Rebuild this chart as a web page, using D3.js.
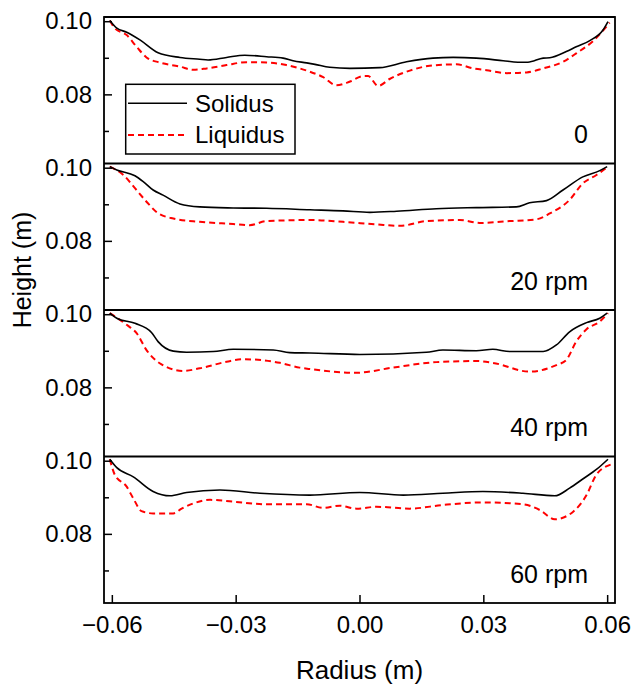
<!DOCTYPE html>
<html><head><meta charset="utf-8">
<script src="https://cdn.jsdelivr.net/npm/d3@7"></script>
<style>body{margin:0;background:#fff} text{font-family:"Liberation Sans",Arial,Helvetica,sans-serif;fill:#000}</style>
</head><body><svg id="c" width="633" height="687"></svg>
<script>
const panelLabels = ["0", "20 rpm", "40 rpm", "60 rpm"];
const seriesNames = ["Solidus", "Liquidus"];
const xTicks = [-0.06, -0.03, 0, 0.03, 0.06];
const yMajorTicks = [0.08, 0.10];
const yMinorTicks = [0.07, 0.09];

const solidus0 = [[-0.0605,0.1002],[-0.0588,0.0981],[-0.0564,0.0970],[-0.0532,0.0949],[-0.0488,0.0914],[-0.0435,0.0901],[-0.0387,0.0896],[-0.0367,0.0894],[-0.0322,0.0901],[-0.0278,0.0907],[-0.0225,0.0903],[-0.0185,0.0899],[-0.0161,0.0892],[-0.0128,0.0886],[-0.0108,0.0882],[-0.0072,0.0874],[-0.0023,0.0871],[0.0049,0.0873],[0.0114,0.0889],[0.0178,0.0899],[0.0227,0.0901],[0.0283,0.0899],[0.0348,0.0892],[0.0384,0.0888],[0.0408,0.0888],[0.0445,0.0899],[0.0461,0.0900],[0.0501,0.0917],[0.0525,0.0930],[0.0558,0.0947],[0.0590,0.0976],[0.0602,0.0999]];
const liquidus0 = [[-0.0605,0.1002],[-0.0593,0.0981],[-0.0564,0.0962],[-0.0540,0.0930],[-0.0516,0.0901],[-0.0484,0.0887],[-0.0435,0.0876],[-0.0403,0.0867],[-0.0370,0.0871],[-0.0322,0.0880],[-0.0274,0.0888],[-0.0225,0.0887],[-0.0177,0.0880],[-0.0145,0.0871],[-0.0120,0.0862],[-0.0088,0.0847],[-0.0056,0.0825],[-0.0023,0.0835],[0.0009,0.0850],[0.0021,0.0850],[0.0045,0.0823],[0.0073,0.0842],[0.0122,0.0865],[0.0170,0.0878],[0.0235,0.0882],[0.0275,0.0871],[0.0308,0.0866],[0.0357,0.0858],[0.0405,0.0860],[0.0445,0.0871],[0.0493,0.0889],[0.0525,0.0912],[0.0566,0.0946],[0.0606,0.0996]];
const solidus20 = [[-0.0605,0.1003],[-0.0588,0.0994],[-0.0544,0.0978],[-0.0524,0.0962],[-0.0500,0.0939],[-0.0476,0.0925],[-0.0435,0.0901],[-0.0387,0.0893],[-0.0306,0.0890],[-0.0225,0.0889],[-0.0120,0.0885],[-0.0040,0.0882],[0.0025,0.0878],[0.0090,0.0881],[0.0186,0.0888],[0.0283,0.0891],[0.0380,0.0893],[0.0412,0.0904],[0.0453,0.0910],[0.0493,0.0939],[0.0541,0.0975],[0.0582,0.0992],[0.0600,0.1003]];
const liquidus20 = [[-0.0605,0.1003],[-0.0572,0.0980],[-0.0544,0.0944],[-0.0516,0.0907],[-0.0492,0.0879],[-0.0451,0.0861],[-0.0387,0.0852],[-0.0306,0.0846],[-0.0266,0.0843],[-0.0225,0.0854],[-0.0120,0.0857],[-0.0040,0.0852],[0.0041,0.0845],[0.0098,0.0841],[0.0162,0.0854],[0.0243,0.0857],[0.0291,0.0849],[0.0364,0.0854],[0.0429,0.0859],[0.0461,0.0875],[0.0509,0.0912],[0.0541,0.0957],[0.0574,0.0980],[0.0602,0.1003]];
const solidus40 = [[-0.0605,0.1003],[-0.0588,0.0989],[-0.0544,0.0975],[-0.0504,0.0950],[-0.0488,0.0925],[-0.0451,0.0899],[-0.0419,0.0896],[-0.0354,0.0898],[-0.0306,0.0904],[-0.0209,0.0902],[-0.0169,0.0895],[-0.0120,0.0894],[0.0001,0.0890],[0.0162,0.0896],[0.0202,0.0902],[0.0283,0.0900],[0.0323,0.0904],[0.0364,0.0898],[0.0445,0.0898],[0.0477,0.0916],[0.0509,0.0952],[0.0550,0.0977],[0.0582,0.0989],[0.0600,0.1003]];
const liquidus40 = [[-0.0605,0.1003],[-0.0564,0.0971],[-0.0540,0.0948],[-0.0516,0.0902],[-0.0484,0.0866],[-0.0427,0.0845],[-0.0387,0.0852],[-0.0322,0.0870],[-0.0282,0.0877],[-0.0193,0.0867],[-0.0145,0.0854],[-0.0120,0.0850],[-0.0007,0.0840],[0.0081,0.0854],[0.0186,0.0869],[0.0283,0.0872],[0.0323,0.0867],[0.0412,0.0843],[0.0477,0.0861],[0.0501,0.0875],[0.0525,0.0925],[0.0550,0.0959],[0.0582,0.0980],[0.0602,0.1003]];
const solidus60 = [[-0.0605,0.1004],[-0.0588,0.0981],[-0.0548,0.0956],[-0.0500,0.0916],[-0.0459,0.0904],[-0.0419,0.0913],[-0.0338,0.0920],[-0.0241,0.0911],[-0.0120,0.0906],[0.0001,0.0913],[0.0106,0.0906],[0.0202,0.0911],[0.0299,0.0916],[0.0396,0.0911],[0.0473,0.0904],[0.0509,0.0925],[0.0541,0.0950],[0.0574,0.0976],[0.0602,0.1004]];
const liquidus60 = [[-0.0605,0.1004],[-0.0593,0.0962],[-0.0564,0.0929],[-0.0548,0.0897],[-0.0528,0.0862],[-0.0500,0.0856],[-0.0451,0.0856],[-0.0431,0.0869],[-0.0403,0.0883],[-0.0362,0.0893],[-0.0306,0.0888],[-0.0225,0.0881],[-0.0128,0.0881],[-0.0088,0.0871],[-0.0048,0.0877],[-0.0007,0.0869],[0.0041,0.0874],[0.0122,0.0869],[0.0202,0.0879],[0.0299,0.0886],[0.0396,0.0881],[0.0437,0.0865],[0.0473,0.0840],[0.0517,0.0860],[0.0550,0.0906],[0.0574,0.0962],[0.0610,0.0990]];

const panels = [
  {label: panelLabels[0], solidus: solidus0, liquidus: liquidus0},
  {label: panelLabels[1], solidus: solidus20, liquidus: liquidus20},
  {label: panelLabels[2], solidus: solidus40, liquidus: liquidus40},
  {label: panelLabels[3], solidus: solidus60, liquidus: liquidus60}
];

const svg = d3.select("#c");
const plotL = 104, plotR = 615, plotT = 17, panelH = 146.5;
const x = d3.scaleLinear().domain([-0.0619, 0.0619]).range([plotL, plotR]);
const fmt = d3.format(".2f");
const solidStyle = {stroke: "#000", width: 1.6, dash: null};
const liqStyle = {stroke: "#ff0000", width: 2, dash: "6,4"};

panels.forEach((p, i) => {
  const y0 = plotT + i * panelH;
  const y = d3.scaleLinear().domain([0.0611, 0.10115]).range([y0 + panelH, y0]);
  const g = svg.append("g");
  const line = d3.line().curve(d3.curveMonotoneX).x(d => x(d[0])).y(d => y(d[1]));
  g.append("path").datum(p.liquidus).attr("d", line).attr("fill", "none")
    .attr("stroke", liqStyle.stroke).attr("stroke-width", liqStyle.width).attr("stroke-dasharray", liqStyle.dash);
  g.append("path").datum(p.solidus).attr("d", line).attr("fill", "none")
    .attr("stroke", solidStyle.stroke).attr("stroke-width", solidStyle.width).attr("stroke-linejoin", "round");

  const ya = g.append("g").attr("transform", `translate(${plotL},0)`)
    .call(d3.axisLeft(y).tickValues(yMajorTicks).tickFormat(fmt).tickSize(-8).tickPadding(12));
  ya.select(".domain").remove();
  ya.selectAll("line").attr("stroke", "#000").attr("stroke-width", 1.5);
  ya.selectAll("text").attr("font-size", 24).style("font-family", '"Liberation Sans", Arial, sans-serif');
  const ym = g.append("g").attr("transform", `translate(${plotL},0)`)
    .call(d3.axisLeft(y).tickValues(yMinorTicks).tickFormat("").tickSize(-5));
  ym.select(".domain").remove();
  ym.selectAll("line").attr("stroke", "#000").attr("stroke-width", 1.5);

  g.append("text").attr("x", 588).attr("y", y0 + panelH - 20.5)
    .attr("text-anchor", "end").attr("font-size", 25).text(p.label);

  g.append("line").attr("x1", plotL).attr("x2", plotR).attr("y1", y0).attr("y2", y0)
    .attr("stroke", "#000").attr("stroke-width", 1.8);
});

const plotB = plotT + 4 * panelH;
const xa = svg.append("g").attr("transform", `translate(0,${plotB})`)
  .call(d3.axisBottom(x).tickValues(xTicks).tickFormat(fmt).tickSize(-8).tickPadding(13));
xa.select(".domain").remove();
xa.selectAll("line").attr("stroke", "#000").attr("stroke-width", 1.5);
xa.selectAll("text").attr("font-size", 24).style("font-family", '"Liberation Sans", Arial, sans-serif');

svg.append("rect").attr("x", plotL).attr("y", plotT).attr("width", plotR - plotL).attr("height", plotB - plotT)
  .attr("fill", "none").attr("stroke", "#000").attr("stroke-width", 1.8);

svg.append("text").attr("x", (plotL + plotR) / 2).attr("y", 679).attr("text-anchor", "middle")
  .attr("font-size", 26).text("Radius (m)");
svg.append("text").attr("transform", "translate(31,270) rotate(-90)").attr("text-anchor", "middle")
  .attr("font-size", 25).text("Height (m)");

const lg = svg.append("g");
lg.append("rect").attr("x", 125.7).attr("y", 84.3).attr("width", 169.3).attr("height", 69.7)
  .attr("fill", "#fff").attr("stroke", "#000").attr("stroke-width", 1.5);
const legItems = [
  {name: seriesNames[0], st: solidStyle, yy: 103.3},
  {name: seriesNames[1], st: liqStyle, yy: 135}
];
legItems.forEach(it => {
  lg.append("line").attr("x1", 128).attr("x2", 187).attr("y1", it.yy).attr("y2", it.yy)
    .attr("stroke", it.st.stroke).attr("stroke-width", it.st.width).attr("stroke-dasharray", it.st.dash);
  lg.append("text").attr("x", 195).attr("y", it.yy + 8.3).attr("font-size", 24).text(it.name);
});
</script>
</body></html>
